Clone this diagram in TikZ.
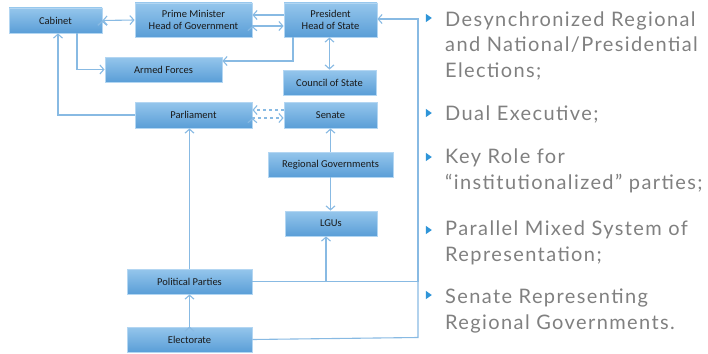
\documentclass[tikz,border=0pt]{standalone}
\usepackage{fontspec}
\setmainfont{Carlito}
\newfontfamily\bulletfont[LetterSpace=7]{Lato}
\usetikzlibrary{arrows.meta,shapes.geometric}
\definecolor{boxtop}{HTML}{95C6EC}
\definecolor{boxbot}{HTML}{5A9ED7}
\definecolor{boxrim}{HTML}{B3D6F2}
\definecolor{wire}{HTML}{88BAE3}
\definecolor{greytext}{HTML}{808080}
\definecolor{markblue}{HTML}{2F95D8}
\tikzset{
	organ/.style={draw=boxrim, line width=0.8pt, top color=boxtop, bottom color=boxbot,
		minimum height=25pt, inner sep=0pt, align=center, font=\fontsize{10.5}{12}\selectfont, text=black!90},
	link/.style={draw=wire, line width=1.1pt, -{Straight Barb[length=4pt,width=9pt]}},
	twoway/.style={link, {Straight Barb[length=4pt,width=9pt]}-{Straight Barb[length=4pt,width=9pt]}},
	plain/.style={draw=wire, line width=1.1pt},
	point/.style={anchor=base west, inner sep=0pt, align=left, text=greytext,
		font=\bulletfont\fontsize{20}{25.5}\selectfont},
	bulletmark/.style={isosceles triangle, isosceles triangle apex angle=70, fill=markblue,
		inner sep=0pt, minimum height=6pt, minimum width=7pt}
}
\begin{document}
\begin{tikzpicture}[x=1pt,y=-1pt]
	\useasboundingbox (0,0) rectangle (708,353);
	\node[organ, minimum width=93pt] at (55.5,20.5) (cab) {Cabinet};
	\node[organ, minimum width=117pt, minimum height=34pt] at (193.5,20) (pm) {Prime Minister\\Head of Government};
	\node[organ, minimum width=93pt, minimum height=34pt] at (330.5,20) (pres) {President\\Head of State};
	\node[organ, minimum width=117pt] at (163.5,69.5) (arm) {Armed Forces};
	\node[organ, minimum width=93pt] at (329.5,82.5) (coun) {Council of State};
	\node[organ, minimum width=117pt, minimum height=26pt] at (193.5,115) (par) {Parliament};
	\node[organ, minimum width=93pt, minimum height=26pt] at (330.5,115) (sen) {Senate};
	\node[organ, minimum width=125pt] at (330.5,164.5) (reg) {Regional Governments};
	\node[organ, minimum width=92pt] at (331,223.5) (lgu) {LGUs};
	\node[organ, minimum width=125pt] at (189.5,281.5) (pp) {Political Parties};
	\node[organ, minimum width=125pt] at (189.5,339.5) (el) {Electorate};
	\coordinate (rail) at (418,0);

	\path[twoway] (cab.east) edge (pm.west);
	\path[link] ([yshift=5pt]pres.west) edge ([yshift=5pt]pm.east)
	([yshift=-6pt]pm.east) edge ([yshift=-6pt]pres.west);
	\draw[link] ([xshift=-37.5pt]pres.south) |- ([yshift=8.5pt]arm.east);
	\draw[link] ([xshift=21.5pt]cab.south) |- (arm.west);
	\draw[twoway] (coun.north) -- (coun.north |- pres.south);
	\draw[link] (par.west) -| ([xshift=2.5pt]cab.south);
	\path[link, dashed] ([yshift=5pt]sen.west) edge ([yshift=5pt]par.east)
	([yshift=-3pt]par.east) edge ([yshift=-3pt]sen.west);
	\path[link] (reg.north) edge (reg.north |- sen.south)
	(reg.south) edge (reg.south |- lgu.north)
	(pp.north) edge (pp.north |- par.south)
	(el.north) edge (el.north |- pp.south);
	\draw[link] (pp.east) -- (pp.east -| rail) |- ([yshift=1pt]pres.east);
	\draw[link] ([xshift=-5pt]lgu.south |- pp.east) -- ([xshift=-5pt]lgu.south);
	\draw[plain] (el.east) -- ([yshift=2pt]el.east -| rail) -- (pp.east -| rail);

	\node[point] at (445,77) (p1) {Desynchronized Regional\\and National/Presidential\\Elections;};
	\node[point] at (445,120) (p2) {Dual Executive;};
	\node[point] at (445,189) (p3) {Key Role for\\\char"201C institutionalized\char"201D\ parties;};
	\node[point] at (445,261) (p4) {Parallel Mixed System of\\Representation;};
	\node[point] at (445,329) (p5) {Senate Representing\\Regional Governments.};
	\node[bulletmark] at (428,18) (m1) {};
	\node[bulletmark] at (428,113) (m2) {};
	\node[bulletmark] at (428,157) (m3) {};
	\node[bulletmark] at (428,230) (m4) {};
	\node[bulletmark] at (428,295) (m5) {};
\end{tikzpicture}
\end{document}
